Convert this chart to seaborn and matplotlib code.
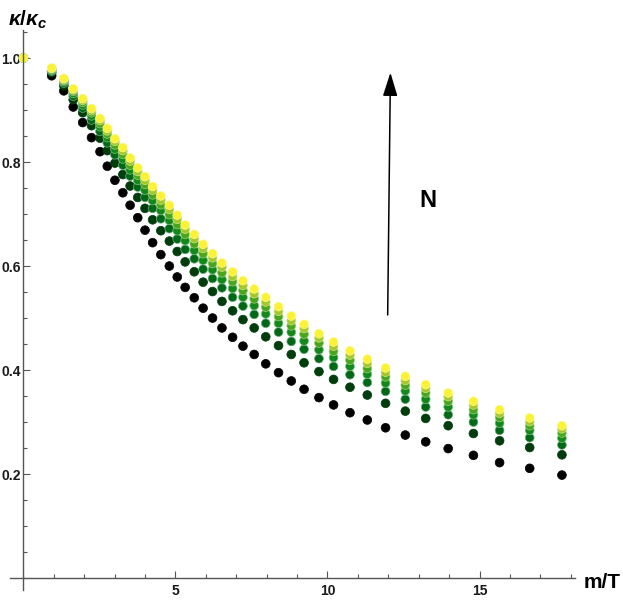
import matplotlib
matplotlib.use("Agg")
import matplotlib.pyplot as plt
from matplotlib.ticker import MultipleLocator
import pandas as pd
import seaborn as sns

# --- Data (kappa/kappa_c vs m/T, one list per N) ---
m_over_T = [0, 0.93, 1.33, 1.64, 1.95, 2.24, 2.52, 2.76, 3.01, 3.27,
            3.51, 3.76, 4.00, 4.25, 4.52, 4.80, 5.06, 5.32, 5.62, 5.91,
            6.22, 6.53, 6.88, 7.22, 7.59, 7.97, 8.39, 8.81, 9.23, 9.72,
            10.20, 10.74, 11.31, 11.91, 12.56, 13.23, 13.97, 14.80, 15.66, 16.65,
            17.71]

kappa_N1 = [1.0, .966, .937, .906, .876, .847, .820, .792, .765, .741,
            .717, .693, .669, .645, .622, .600, .579, .559, .539, .519,
            .500, .481, .463, .446, .430, .412, .395, .379, .363, .347,
            .333, .318, .304, .289, .275, .262, .249, .236, .222, .211,
            .198]
kappa_N2 = [1.0, .972, .947, .920, .895, .870, .846, .822, .798, .776,
            .754, .732, .711, .689, .668, .648, .628, .608, .589, .569,
            .551, .532, .514, .497, .481, .464, .447, .430, .414, .397,
            .382, .367, .352, .336, .321, .307, .293, .278, .264, .251,
            .237]
kappa_N3 = [1.0, .975, .952, .927, .904, .881, .859, .837, .814, .794,
            .773, .752, .732, .711, .691, .672, .652, .632, .614, .594,
            .576, .558, .540, .523, .507, .490, .473, .455, .440, .422,
            .407, .391, .376, .359, .344, .329, .314, .300, .284, .270,
            .256]
kappa_N4 = [1.0, .977, .955, .932, .910, .889, .868, .847, .825, .806,
            .785, .765, .746, .726, .707, .688, .668, .649, .630, .611,
            .593, .574, .557, .540, .524, .508, .490, .473, .456, .439,
            .424, .407, .392, .375, .360, .344, .329, .314, .298, .284,
            .269]
kappa_N5 = [1.0, .979, .957, .936, .915, .895, .874, .854, .833, .815,
            .794, .775, .757, .737, .718, .699, .680, .661, .643, .624,
            .605, .587, .570, .553, .537, .521, .503, .485, .469, .452,
            .436, .419, .403, .387, .371, .356, .340, .324, .309, .293,
            .279]
kappa_N6 = [1.0, .980, .959, .939, .919, .899, .880, .860, .840, .822,
            .802, .782, .765, .746, .727, .709, .690, .671, .653, .634,
            .616, .598, .580, .563, .547, .531, .513, .495, .480, .462,
            .446, .429, .413, .396, .380, .365, .349, .333, .317, .301,
            .287]
kappa_N7 = [1.0, .981, .961, .941, .922, .903, .884, .865, .845, .828,
            .808, .789, .772, .753, .735, .717, .698, .679, .661, .642,
            .624, .606, .589, .572, .556, .540, .522, .504, .488, .470,
            .454, .437, .421, .404, .388, .372, .356, .340, .324, .308,
            .293]

series = [kappa_N1, kappa_N2, kappa_N3, kappa_N4, kappa_N5, kappa_N6, kappa_N7]
palette = ["#000000", "#003c0c", "#006816", "#13891c", "#48a61c", "#a3c829", "#fbf236"]

rows = []
for n, vals in enumerate(series, start=1):
    for x, y in zip(m_over_T, vals):
        rows.append({"m/T": x, "kappa": y, "N": n})
df = pd.DataFrame(rows)

# --- Style ---
sns.set_style("white")
plt.rcParams['font.family'] = ['Liberation Sans', 'DejaVu Sans']
plt.rcParams['text.color'] = 'black'
plt.rcParams['mathtext.fontset'] = 'custom'
plt.rcParams['mathtext.it'] = 'Liberation Sans:italic:bold'
plt.rcParams['mathtext.rm'] = 'Liberation Sans:bold'

fig = plt.figure(figsize=(6.23, 6.02), dpi=100)
ax = fig.add_axes([10 / 623, 12 / 602, 565 / 623, 560 / 602])

sns.scatterplot(data=df, x="m/T", y="kappa", hue="N", palette=palette,
                s=40, linewidth=0.5, legend=False, ax=ax, zorder=1)

# lighter rim around each dot, like the original
coll = ax.collections[0]
faces = coll.get_facecolors()
edges = [tuple(0.55 * c[:3] + 0.45 * 1.0) + (1.0,) if c[:3].sum() > 0.3 else tuple(c)
         for c in faces]
coll.set_edgecolors(edges)

ax.set_xlim(-0.44, 18.14)
ax.set_ylim(-0.023, 1.054)

# axes crossing at the origin
for side in ["top", "right"]:
    ax.spines[side].set_visible(False)
for side in ["left", "bottom"]:
    ax.spines[side].set_position(("data", 0))
    ax.spines[side].set_color("#555555")
    ax.spines[side].set_linewidth(1.0)
    ax.spines[side].set_zorder(3)

ax.set_xticks([5, 10, 15])
ax.xaxis.set_minor_locator(MultipleLocator(1))
ax.set_yticks([0.2, 0.4, 0.6, 0.8, 1.0])
ax.set_yticklabels(["0.2", "0.4", "0.6", "0.8", "1.0"])
ax.yaxis.set_minor_locator(MultipleLocator(0.05))
ax.tick_params(which="both", direction="in", color="#555555", width=0.8,
               bottom=True, left=True, top=False, right=False)
ax.tick_params(which="major", length=5, labelsize=10, labelcolor="#1a1a1a")
ax.tick_params(which="minor", length=3)
ax.tick_params(axis="x", pad=4)
ax.tick_params(axis="y", pad=2)
for lab in ax.get_xticklabels() + ax.get_yticklabels():
    lab.set_fontweight("bold")
ax.set_xlabel("")
ax.set_ylabel("")

# axis labels placed like Mathematica's
fig.text(584 / 623, 1 - 582 / 602, "m/T", fontsize=15, fontweight="bold",
         ha="left", va="center")
fig.text(8 / 623, 1 - 20 / 602, r"$\kappa/\kappa_c$", fontsize=15,
         ha="left", va="center")

# arrow showing increasing N
ax.annotate("", xy=(12.07, 0.972), xytext=(11.98, 0.506),
            arrowprops=dict(arrowstyle="-|>,head_length=0.8,head_width=0.25",
                            color="black", lw=1.1, mutation_scale=18,
                            shrinkA=0, shrinkB=0))
ax.text(13.3, 0.727, "N", fontsize=17, fontweight="bold", color="black",
        ha="center", va="center")

plt.savefig("out.png", dpi=100)
